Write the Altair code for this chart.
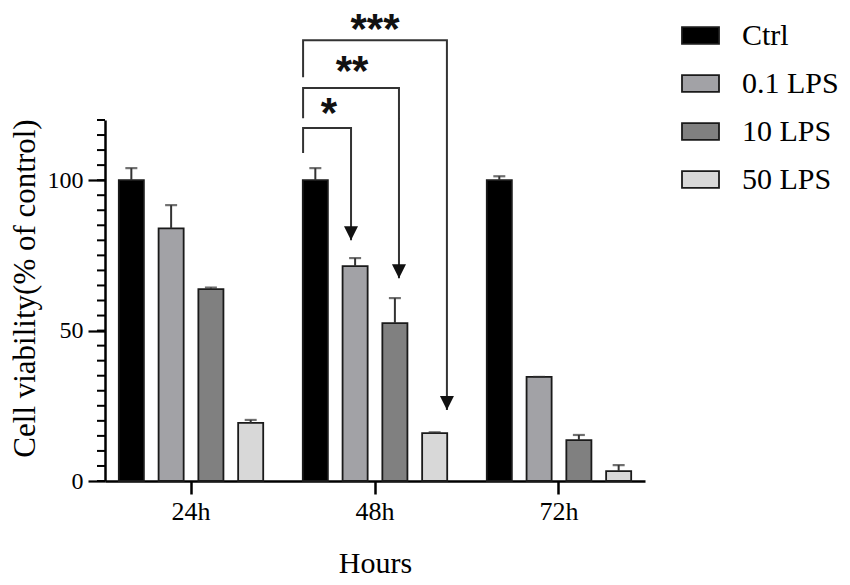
import altair as alt
import pandas as pd

groups = ["24h", "48h", "72h"]
series = ["Ctrl", "0.1 LPS", "10 LPS", "50 LPS"]
colors = ["#000000", "#a2a2a6", "#808080", "#d8d8d8"]

mean_ctrl = [100, 100, 100]
mean_01 = [84, 71.4, 34.6]
mean_10 = [63.8, 52.5, 13.6]
mean_50 = [19.3, 15.9, 3.3]

err_ctrl = [4, 4, 1.3]
err_01 = [7.7, 2.7, 0]
err_10 = [0.5, 8.3, 1.7]
err_50 = [1, 0.3, 2]

major_ticks = [0, 50, 100]
minor_ticks = list(range(0, 121, 5))

# significance comparisons (48h group, Ctrl vs target)
comp_group = "48h"
comp_target = ["0.1 LPS", "10 LPS", "50 LPS"]
comp_label = ["*", "**", "***"]
bracket_start = [109, 120.6, 134.2]
bracket_top = [117.3, 130.6, 146.5]
arrow_tip = [80, 67.4, 23.6]
star_y = [125, 139, 153]

means = [mean_ctrl, mean_01, mean_10, mean_50]
errs = [err_ctrl, err_01, err_10, err_50]
rows = []
for si, s in enumerate(series):
    for gi, g in enumerate(groups):
        rows.append({"group": g, "series": s, "mean": means[si][gi],
                     "top": means[si][gi] + errs[si][gi]})
df = pd.DataFrame(rows)

line_rows = []
arrow_rows = []
star_rows = []
for i, t in enumerate(comp_target):
    pts = [("Ctrl", bracket_start[i]), ("Ctrl", bracket_top[i]),
           (t, bracket_top[i]), (t, arrow_tip[i])]
    for k, (s, y) in enumerate(pts):
        line_rows.append({"group": comp_group, "series": s, "y": y, "comp": i, "ord": k})
    arrow_rows.append({"group": comp_group, "series": t, "y": arrow_tip[i]})
    slot = (2 * series.index("Ctrl") + 2 * series.index(t)) // 2
    star_rows.append({"group": comp_group, "slot": slot, "y": star_y[i], "label": comp_label[i]})
lines_df = pd.DataFrame(line_rows)
arrows_df = pd.DataFrame(arrow_rows)
stars_df = pd.DataFrame(star_rows)
minor_df = pd.DataFrame({"v": minor_ticks})

SERIF = "Liberation Serif"
PI2, PO2 = 0.37, 0.035
xscale = alt.Scale(domain=groups, paddingInner=0.2, paddingOuter=0.0675)
xoff = alt.Scale(domain=series, paddingInner=PI2, paddingOuter=PO2)
slot_scale = alt.Scale(domain=list(range(2 * len(series) - 1)), paddingInner=0,
                       paddingOuter=(1 - 2 * PI2 + 4 * PO2) / 2)
yscale = alt.Scale(domain=[0, 120], nice=False)

x_enc = alt.X("group:N", scale=xscale, sort=groups,
              axis=alt.Axis(title="Hours", labelAngle=0, labelFontSize=26, labelFont=SERIF,
                            titleFont=SERIF, titleFontSize=30, titleFontWeight="normal",
                            titlePadding=24, tickSize=13, tickWidth=2.5, tickColor="black",
                            domainColor="black", domainWidth=2.5, labelColor="black",
                            titleColor="black", labelPadding=4))
y_axis = alt.Axis(title="Cell viability(% of control)", values=major_ticks,
                  tickSize=17, tickWidth=2.2, tickColor="black", domainColor="black",
                  domainWidth=2.5, labelFont=SERIF, labelFontSize=24, labelColor="black",
                  labelPadding=5, labelOverlap=False,
                  titleFont=SERIF, titleFontSize=31, titleFontWeight="normal",
                  titleColor="black", titleX=-71, titleY=168, titleAngle=-90,
                  titleBaseline="alphabetic", titleAlign="center", grid=False)

base = alt.Chart(df)
bars = base.mark_bar(stroke="#1a1a1a", strokeWidth=1.8).encode(
    x=x_enc,
    xOffset=alt.XOffset("series:N", scale=xoff, sort=series),
    y=alt.Y("mean:Q", scale=yscale, axis=y_axis),
    color=alt.Color("series:N", sort=series,
                    scale=alt.Scale(domain=series, range=colors),
                    legend=alt.Legend(title=None, orient="none", legendX=576, legendY=-104,
                                      symbolType="M-1,-0.45L1,-0.45L1,0.45L-1,0.45Z",
                                      symbolSize=1369, symbolStrokeColor="#1a1a1a",
                                      symbolStrokeWidth=1.8, labelFont=SERIF,
                                      labelFontSize=30, labelColor="black", labelOffset=22,
                                      rowPadding=13, padding=0)),
)
minor = alt.Chart(minor_df).mark_rule(color="black", strokeWidth=2).encode(
    y=alt.Y("v:Q", scale=yscale),
    x=alt.value(-8),
    x2=alt.value(0),
)
err_rule = base.mark_rule(color="#333333", strokeWidth=2).encode(
    x=alt.X("group:N", scale=xscale, sort=groups),
    xOffset=alt.XOffset("series:N", scale=xoff, sort=series),
    y=alt.Y("mean:Q", scale=yscale),
    y2="top:Q",
)
err_cap = base.mark_tick(color="#333333", thickness=2.2, size=12, orient="horizontal").encode(
    x=alt.X("group:N", scale=xscale, sort=groups),
    xOffset=alt.XOffset("series:N", scale=xoff, sort=series),
    y=alt.Y("top:Q", scale=yscale),
)
brackets = alt.Chart(lines_df).mark_line(color="#333333", strokeWidth=2).encode(
    x=alt.X("group:N", scale=xscale, sort=groups),
    xOffset=alt.XOffset("series:N", scale=xoff, sort=series),
    y=alt.Y("y:Q", scale=yscale),
    detail="comp:N",
    order="ord:Q",
)
arrows = alt.Chart(arrows_df).mark_point(
    shape="M-1,-1L1,-1L0,1Z", size=196, filled=True, color="#111111", opacity=1, yOffset=-7
).encode(
    x=alt.X("group:N", scale=xscale, sort=groups),
    xOffset=alt.XOffset("series:N", scale=xoff, sort=series),
    y=alt.Y("y:Q", scale=yscale),
)
stars = alt.Chart(stars_df).mark_text(
    font="Liberation Sans", fontWeight="bold", fontSize=42, color="#111111",
    baseline="middle", align="center", dy=9
).encode(
    x=alt.X("group:N", scale=xscale, sort=groups),
    xOffset=alt.XOffset("slot:O", scale=slot_scale),
    y=alt.Y("y:Q", scale=yscale),
    text="label:N",
)

chart = alt.layer(bars, minor, err_rule, err_cap, brackets, arrows, stars).resolve_scale(
    xOffset="independent"
).properties(
    width=540, height=361,
    autosize=alt.AutoSizeParams(type="none"),
    padding={"left": 97, "top": 112, "right": 195, "bottom": 96},
).configure(background="white").configure_view(stroke=None, strokeWidth=0)

chart.save("out.html", embed_options={"renderer": "svg", "actions": False})
